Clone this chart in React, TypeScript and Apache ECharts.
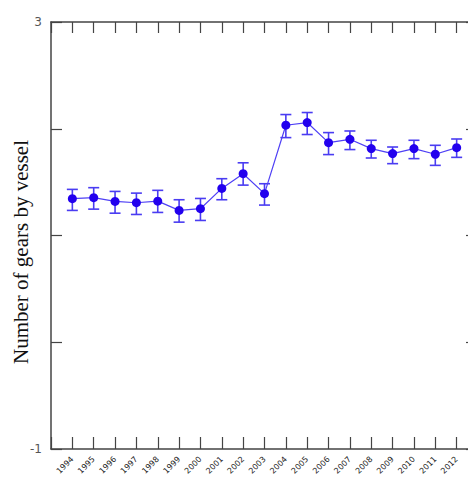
import React, { useEffect, useRef } from "react";
import * as echarts from "echarts";

const years = [1994, 1995, 1996, 1997, 1998, 1999, 2000, 2001, 2002, 2003, 2004, 2005, 2006, 2007, 2008, 2009, 2010, 2011, 2012];
const means = [1.345, 1.354, 1.319, 1.307, 1.322, 1.235, 1.251, 1.441, 1.579, 1.392, 2.033, 2.058, 1.87, 1.901, 1.814, 1.767, 1.814, 1.761, 1.823];
const upper = [1.432, 1.448, 1.413, 1.397, 1.423, 1.335, 1.347, 1.532, 1.681, 1.485, 2.133, 2.152, 1.964, 1.979, 1.892, 1.829, 1.892, 1.845, 1.904];
const lower = [1.235, 1.247, 1.209, 1.197, 1.216, 1.125, 1.141, 1.335, 1.472, 1.285, 1.917, 1.946, 1.758, 1.805, 1.726, 1.673, 1.72, 1.657, 1.732];
const yTickLabels = ["-1", "3"];
const yTitle = "Number of gears by vessel";

export default function App() {
  const ref = useRef<HTMLDivElement>(null);
  useEffect(() => {
    if (!ref.current) return;
    document.body.style.overflow = "hidden";
    const chart = echarts.init(ref.current, undefined, { renderer: "svg" });
    const axisColor = "#444";
    const errColor = "#4a3cf2";
    chart.setOption({
      animation: false,
      grid: { left: 51, top: 22, bottom: 32, right: 22, outerBoundsMode: "none", containLabel: false },
      xAxis: [
        {
          type: "value",
          min: 1993,
          max: 2013,
          interval: 1,
          position: "bottom",
          axisLine: { onZero: false, lineStyle: { color: axisColor, width: 1.5 } },
          axisTick: { inside: true, length: 12, lineStyle: { color: axisColor, width: 1.2 } },
          splitLine: { show: false },
          axisLabel: {
            rotate: 45,
            fontSize: 8,
            color: "#222",
            fontFamily: "DejaVu Sans",
            margin: 9,
            formatter: (v: number) => (years.indexOf(v) >= 0 ? String(v) : ""),
          },
        },
        {
          type: "value",
          min: 1993,
          max: 2013,
          interval: 1,
          position: "top",
          axisLine: { onZero: false, lineStyle: { color: axisColor, width: 1.5 } },
          axisTick: { inside: true, length: 11, lineStyle: { color: axisColor, width: 1.2 } },
          splitLine: { show: false },
          axisLabel: { show: false },
        },
      ],
      yAxis: [
        {
          type: "value",
          min: -1,
          max: 3,
          interval: 1,
          position: "left",
          axisLine: { show: true, onZero: false, lineStyle: { color: axisColor, width: 1.5 } },
          axisTick: { show: true, inside: true, length: 11, lineStyle: { color: axisColor, width: 1.2 } },
          splitLine: { show: false },
          axisLabel: {
            fontSize: 12,
            color: "#555",
            fontFamily: "DejaVu Sans",
            margin: 9,
            formatter: (v: number) => (yTickLabels.indexOf(String(v)) >= 0 ? String(v) : ""),
          },
        },
        {
          type: "value",
          min: -1,
          max: 3,
          interval: 1,
          position: "right",
          axisLine: { show: true, onZero: false, lineStyle: { color: axisColor, width: 1.5 } },
          axisTick: { show: true, inside: true, length: 12, lineStyle: { color: axisColor, width: 1.2 } },
          splitLine: { show: false },
          axisLabel: { show: false },
        },
      ],
      graphic: [
        {
          type: "text",
          x: 21,
          y: 252,
          rotation: Math.PI / 2,
          style: {
            text: yTitle,
            fontSize: 21,
            fontFamily: "Liberation Serif",
            fill: "#111",
            align: "center",
            verticalAlign: "middle",
          },
        },
      ],
      series: [
        {
          type: "custom",
          xAxisIndex: 0,
          yAxisIndex: 0,
          data: years.map((y, i) => [y, lower[i], upper[i]]),
          renderItem: (params: any, api: any) => {
            const x = api.value(0);
            const lo = api.coord([x, api.value(1)]);
            const hi = api.coord([x, api.value(2)]);
            const hw = 5.5;
            const style = { stroke: errColor, lineWidth: 1.6, fill: "none" };
            return {
              type: "group",
              children: [
                { type: "line", shape: { x1: lo[0], y1: lo[1], x2: hi[0], y2: hi[1] }, style },
                { type: "line", shape: { x1: lo[0] - hw, y1: lo[1], x2: lo[0] + hw, y2: lo[1] }, style },
                { type: "line", shape: { x1: hi[0] - hw, y1: hi[1], x2: hi[0] + hw, y2: hi[1] }, style },
              ],
            };
          },
          z: 2,
        },
        {
          type: "line",
          xAxisIndex: 0,
          yAxisIndex: 0,
          data: years.map((y, i) => [y, means[i]]),
          symbol: "circle",
          symbolSize: 9,
          itemStyle: { color: "#2200ee" },
          lineStyle: { color: "#4f40f5", width: 1.2 },
          z: 3,
        },
      ],
    });
    return () => chart.dispose();
  }, []);
  return (
    <div
      ref={ref}
      style={{ position: "absolute", left: 0, top: 0, width: 500, height: 481 }}
    />
  );
}
